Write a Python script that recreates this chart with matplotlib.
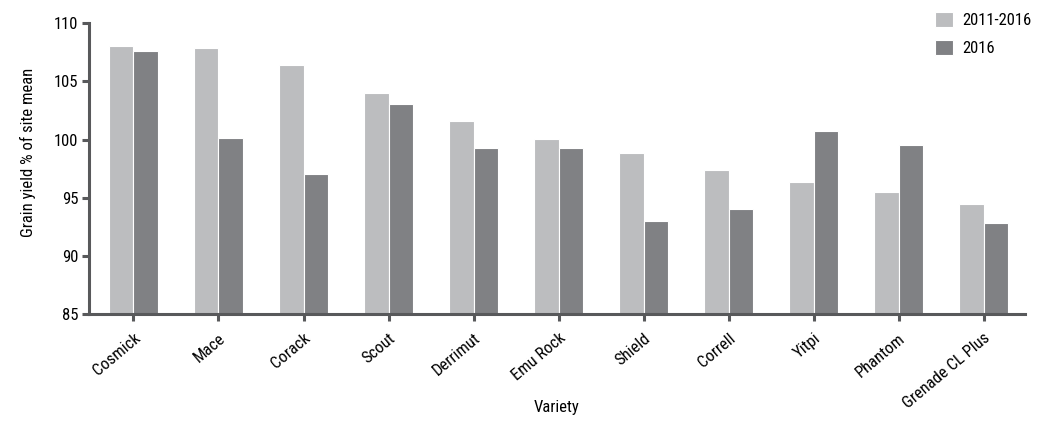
import matplotlib
matplotlib.use("Agg")
import matplotlib.pyplot as plt
import numpy as np
from matplotlib import font_manager

# look for a narrow / condensed face, the reference uses a condensed font
family = 'DejaVu Sans'
stretch = 'normal'
names = set(f.name for f in font_manager.fontManager.ttflist)
for cand in ['Liberation Sans Narrow', 'Roboto Condensed', 'Open Sans Condensed', 'Noto Sans Condensed']:
    if cand in names:
        family = cand
        break
else:
    for f in font_manager.fontManager.ttflist:
        if f.name in ('DejaVu Sans', 'Noto Sans', 'Open Sans', 'Roboto') and 'ondensed' in str(f.stretch) + f.fname:
            family = f.name
            stretch = 'condensed'
            break
plt.rcParams['font.family'] = [family, 'DejaVu Sans']
plt.rcParams['font.stretch'] = stretch

# data
varieties = ['Cosmick', 'Mace', 'Corack', 'Scout', 'Derrimut', 'Emu Rock',
             'Shield', 'Correll', 'Yitpi', 'Phantom', 'Grenade CL Plus']
yield_2011_2016 = [108.05, 107.9, 106.4, 104.0, 101.6, 100.05, 98.85, 97.4, 96.35, 95.5, 94.45]
yield_2016 = [107.6, 100.15, 97.05, 103.05, 99.3, 99.3, 93.0, 94.05, 100.75, 99.55, 92.85]

light = '#bcbdbf'
dark = '#808184'
axis_col = '#58595b'
fs = 12

fig = plt.figure(figsize=(10.43, 4.23), dpi=100)
ax = fig.add_axes([0.0856, 0.2577, 0.8974, 0.6873])

x = np.arange(len(varieties))
w = 0.285
ax.bar(x - w / 2, np.array(yield_2011_2016) - 85, w, bottom=85, color=light,
       edgecolor='white', linewidth=0.8, label='2011-2016')
ax.bar(x + w / 2, np.array(yield_2016) - 85, w, bottom=85, color=dark,
       edgecolor='white', linewidth=0.8, label='2016')

ax.set_ylim(85, 110)
ax.set_xlim(-0.52, 10.49)
ax.set_yticks([85, 90, 95, 100, 105, 110])
ax.set_xticks(x)
ax.set_xticklabels(varieties, rotation=40, ha='right', rotation_mode='anchor')

for s in ['top', 'right']:
    ax.spines[s].set_visible(False)
for s in ['left', 'bottom']:
    ax.spines[s].set_color(axis_col)
    ax.spines[s].set_linewidth(2.2)
ax.tick_params(axis='both', colors=axis_col, width=2.2, length=5, labelsize=fs,
               labelcolor='black')
ax.tick_params(axis='x', pad=7)
ax.tick_params(axis='y', pad=3)

fig.text(0.027, 0.64, 'Grain yield % of site mean', rotation=90, ha='center',
         va='center', fontsize=fs)
fig.text(0.534, 0.036, 'Variety', ha='center', va='center', fontsize=fs)

fig.legend(loc='upper left', bbox_to_anchor=(0.8965, 0.972), frameon=False,
           fontsize=fs, handlelength=1.05, handleheight=1.05, labelspacing=0.7,
           handletextpad=0.6, borderpad=0, borderaxespad=0)

fig.savefig('out.png', dpi=100)
